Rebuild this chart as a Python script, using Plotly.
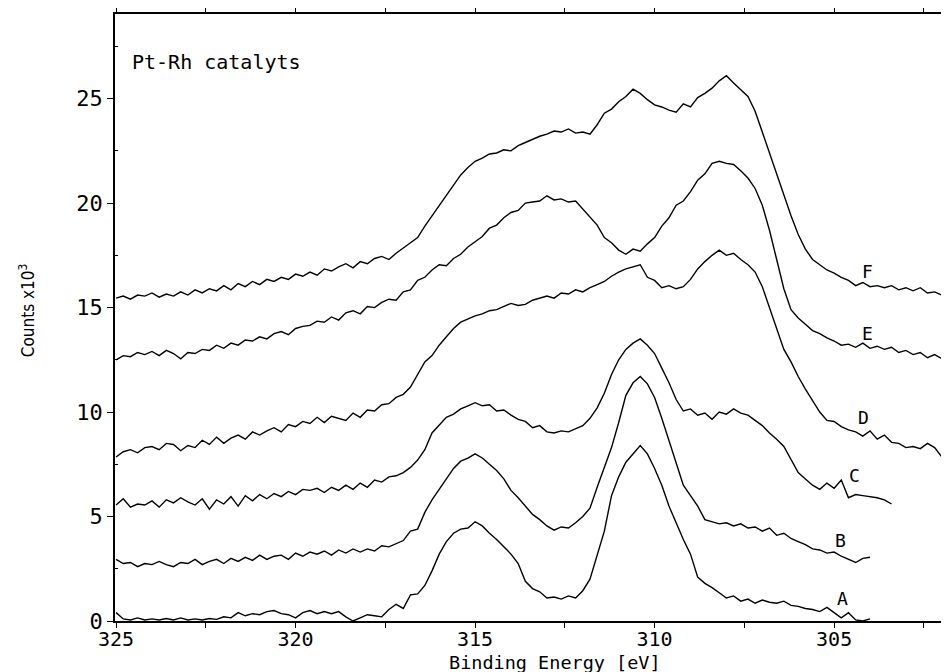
import plotly.graph_objects as go

# Binding energy sampling grid [eV] (shared by all spectra; each spectrum uses its first len(values) points)
energy = [
    325.0, 324.8, 324.6, 324.4, 324.2, 324.0, 323.8, 323.6, 323.4, 323.2,
    323.0, 322.8, 322.6, 322.4, 322.2, 322.0, 321.8, 321.6, 321.4, 321.2,
    321.0, 320.8, 320.6, 320.4, 320.2, 320.0, 319.8, 319.6, 319.4, 319.2,
    319.0, 318.8, 318.6, 318.4, 318.2, 318.0, 317.8, 317.6, 317.4, 317.2,
    317.0, 316.8, 316.6, 316.4, 316.2, 316.0, 315.8, 315.6, 315.4, 315.2,
    315.0, 314.8, 314.6, 314.4, 314.2, 314.0, 313.8, 313.6, 313.4, 313.2,
    313.0, 312.8, 312.6, 312.4, 312.2, 312.0, 311.8, 311.6, 311.4, 311.2,
    311.0, 310.8, 310.6, 310.4, 310.2, 310.0, 309.8, 309.6, 309.4, 309.2,
    309.0, 308.8, 308.6, 308.4, 308.2, 308.0, 307.8, 307.6, 307.4, 307.2,
    307.0, 306.8, 306.6, 306.4, 306.2, 306.0, 305.8, 305.6, 305.4, 305.2,
    305.0, 304.8, 304.6, 304.4, 304.2, 304.0, 303.8, 303.6, 303.4, 303.2,
    303.0, 302.8, 302.6, 302.4, 302.2, 302.0, 301.8,
]

# Counts x10^3 for each sample
spec_A = [
    0.40, 0.10, 0.05, 0.15, 0.05, 0.10, 0.05, 0.12, 0.05, 0.15,
    0.05, 0.10, 0.05, 0.12, 0.08, 0.20, 0.15, 0.40, 0.25, 0.35,
    0.30, 0.45, 0.50, 0.35, 0.30, 0.15, 0.40, 0.50, 0.35, 0.45,
    0.35, 0.45, 0.20, 0.00, 0.15, 0.30, 0.25, 0.20, 0.55, 0.80,
    0.60, 1.25, 1.30, 1.70, 2.40, 3.20, 3.80, 4.20, 4.40, 4.45,
    4.75, 4.55, 4.20, 3.90, 3.55, 3.20, 2.75, 1.90, 1.55, 1.40,
    1.10, 1.15, 1.05, 1.20, 1.10, 1.45, 2.00, 3.10, 4.30, 6.00,
    6.90, 7.60, 8.00, 8.40, 8.00, 7.30, 6.50, 5.50, 4.70, 3.90,
    3.20, 2.10, 1.80, 1.60, 1.35, 1.10, 1.20, 0.95, 1.05, 0.85,
    1.00, 0.90, 0.85, 0.95, 0.75, 0.70, 0.60, 0.55, 0.45, 0.65,
    0.40, 0.15, 0.40, 0.05, 0.00, 0.10,
]
spec_B = [
    2.95, 2.75, 2.80, 2.60, 2.75, 2.70, 2.85, 2.70, 2.60, 2.80,
    2.75, 2.95, 2.70, 2.85, 2.95, 2.75, 3.00, 2.85, 3.05, 2.90,
    3.15, 2.95, 3.10, 3.15, 2.95, 3.25, 3.10, 3.30, 3.20, 3.35,
    3.15, 3.40, 3.25, 3.45, 3.30, 3.45, 3.35, 3.60, 3.55, 3.70,
    3.85, 4.30, 4.40, 5.20, 5.80, 6.30, 6.80, 7.30, 7.65, 7.80,
    8.00, 7.80, 7.50, 7.20, 6.80, 6.25, 5.90, 5.50, 5.10, 4.85,
    4.55, 4.35, 4.50, 4.45, 4.70, 5.00, 5.40, 6.40, 7.30, 8.30,
    9.50, 10.80, 11.40, 11.70, 11.35, 10.70, 9.70, 8.60, 7.50, 6.50,
    6.00, 5.50, 4.85, 4.75, 4.65, 4.70, 4.55, 4.65, 4.45, 4.50,
    4.30, 4.45, 4.10, 4.20, 3.95, 3.80, 3.65, 3.45, 3.40, 3.25,
    3.30, 3.10, 2.95, 2.80, 3.00, 3.05,
]
spec_C = [
    5.55, 5.85, 5.45, 5.60, 5.55, 5.75, 5.45, 5.80, 5.65, 5.90,
    5.70, 5.55, 5.85, 5.35, 5.80, 5.60, 5.95, 5.50, 6.00, 5.75,
    6.05, 5.85, 6.10, 5.95, 6.20, 6.05, 6.30, 6.25, 6.35, 6.15,
    6.40, 6.25, 6.50, 6.30, 6.60, 6.40, 6.75, 6.65, 6.90, 6.95,
    7.10, 7.35, 7.70, 8.20, 9.00, 9.40, 9.75, 9.90, 10.15, 10.30,
    10.45, 10.30, 10.35, 10.05, 10.10, 9.85, 9.65, 9.55, 9.25, 9.35,
    9.05, 9.00, 9.10, 9.05, 9.20, 9.35, 9.70, 10.20, 10.90, 11.80,
    12.50, 13.00, 13.30, 13.50, 13.20, 12.80, 12.10, 11.40, 10.60, 10.05,
    10.15, 9.85, 9.95, 9.65, 10.00, 9.90, 10.15, 9.95, 9.85, 9.60,
    9.35, 9.00, 8.70, 8.35, 7.70, 7.10, 6.80, 6.50, 6.30, 6.60,
    6.35, 6.75, 5.90, 6.05, 6.00, 5.95, 5.90, 5.80, 5.60,
]
spec_D = [
    7.85, 8.10, 8.20, 8.05, 8.30, 8.35, 8.20, 8.50, 8.45, 8.15,
    8.40, 8.30, 8.65, 8.45, 8.80, 8.50, 8.75, 8.90, 8.70, 9.05,
    8.90, 9.10, 9.25, 9.05, 9.40, 9.30, 9.55, 9.45, 9.75, 9.50,
    9.80, 9.70, 9.60, 9.95, 9.75, 10.10, 10.05, 10.35, 10.40, 10.70,
    10.85, 11.20, 11.80, 12.40, 12.70, 13.20, 13.60, 14.00, 14.30, 14.45,
    14.60, 14.70, 14.85, 14.90, 15.05, 15.20, 15.10, 15.15, 15.35, 15.45,
    15.55, 15.45, 15.70, 15.65, 15.85, 15.75, 15.95, 16.10, 16.25, 16.50,
    16.70, 16.85, 16.95, 17.05, 16.45, 16.30, 15.95, 16.05, 15.90, 16.00,
    16.35, 16.85, 17.20, 17.50, 17.75, 17.50, 17.60, 17.30, 17.05, 16.70,
    16.00, 15.00, 14.00, 13.00, 12.40, 11.70, 11.10, 10.55, 10.00, 9.60,
    9.55, 9.30, 9.15, 9.05, 8.85, 9.10, 8.70, 8.90, 8.55, 8.50,
    8.30, 8.35, 8.25, 8.50, 8.30, 7.85,
]
spec_E = [
    12.50, 12.70, 12.65, 12.85, 12.75, 12.90, 12.70, 12.95, 12.80, 12.55,
    12.85, 12.80, 13.00, 12.95, 13.20, 13.05, 13.30, 13.20, 13.45, 13.40,
    13.60, 13.50, 13.75, 13.85, 13.70, 14.00, 14.10, 14.15, 14.35, 14.30,
    14.55, 14.40, 14.75, 14.85, 14.70, 15.05, 15.00, 15.25, 15.40, 15.35,
    15.75, 15.85, 16.30, 16.45, 16.80, 17.05, 17.00, 17.35, 17.55, 17.90,
    18.15, 18.40, 18.80, 18.95, 19.30, 19.55, 19.65, 20.00, 20.05, 20.10,
    20.35, 20.15, 20.20, 20.05, 20.10, 19.70, 19.35, 18.95, 18.35, 18.10,
    17.75, 17.55, 17.80, 17.70, 18.05, 18.35, 18.90, 19.30, 19.90, 20.10,
    20.55, 21.10, 21.40, 21.90, 22.00, 21.90, 21.85, 21.55, 21.20, 20.70,
    19.90, 18.70, 17.30, 15.90, 14.90, 14.50, 14.20, 13.90, 13.75, 13.55,
    13.40, 13.20, 13.25, 13.10, 13.30, 13.05, 13.15, 13.00, 13.10, 12.85,
    12.95, 12.75, 12.85, 12.60, 12.75, 12.55, 12.35,
]
spec_F = [
    15.45, 15.55, 15.40, 15.60, 15.55, 15.70, 15.50, 15.65, 15.55, 15.75,
    15.60, 15.85, 15.70, 15.90, 15.80, 16.05, 15.85, 16.15, 16.00, 16.25,
    16.10, 16.35, 16.25, 16.45, 16.35, 16.60, 16.50, 16.70, 16.55, 16.85,
    16.75, 16.95, 17.10, 16.90, 17.20, 17.10, 17.35, 17.45, 17.30, 17.60,
    17.85, 18.10, 18.35, 18.90, 19.40, 19.90, 20.40, 20.90, 21.35, 21.70,
    22.00, 22.15, 22.35, 22.40, 22.55, 22.50, 22.75, 22.90, 23.05, 23.20,
    23.30, 23.45, 23.40, 23.55, 23.35, 23.40, 23.30, 23.75, 24.30, 24.50,
    24.85, 25.10, 25.45, 25.25, 24.95, 24.70, 24.60, 24.45, 24.35, 24.75,
    24.60, 25.05, 25.25, 25.50, 25.85, 26.10, 25.75, 25.40, 25.10, 24.40,
    23.40, 22.30, 21.35, 20.30, 19.40, 18.50, 17.80, 17.30, 17.05, 16.80,
    16.65, 16.45, 16.30, 16.05, 16.20, 16.00, 16.05, 15.95, 16.05, 15.85,
    15.95, 15.80, 15.95, 15.70, 15.75, 15.60, 15.45,
]

series_names = ["A", "B", "C", "D", "E", "F"]
series_values = [spec_A, spec_B, spec_C, spec_D, spec_E, spec_F]

# Curve label anchor points (eV, counts)
label_energy = [304.78, 304.83, 304.42, 304.19, 304.08, 304.08]
label_counts = [1.10, 3.86, 6.97, 9.73, 13.74, 16.75]

x_tick_vals = [325, 320, 315, 310, 305]
x_tick_text = ["325", "320", "315", "310", "305"]
x_minor_vals = [322.5, 317.5, 312.5, 307.5, 302.5]
y_tick_vals = [0, 5, 10, 15, 20, 25]
y_tick_text = ["0", "5", "10", "15", "20", "25"]
y_minor_vals = [2.5, 7.5, 12.5, 17.5, 22.5, 27.5]

FONT = "DejaVu Sans Mono"

fig = go.Figure()
for name, vals in zip(series_names, series_values):
    fig.add_trace(go.Scatter(
        x=energy[:len(vals)], y=vals, mode="lines", name=name,
        line=dict(color="black", width=1.4), showlegend=False,
        hoverinfo="skip",
    ))

for name, ex, cy in zip(series_names, label_energy, label_counts):
    fig.add_annotation(x=ex, y=cy, xref="x", yref="y", text=name,
                       showarrow=False, font=dict(family=FONT, size=18, color="black"),
                       xanchor="center", yanchor="middle")

fig.add_annotation(x=0.018, y=0.921, xref="paper", yref="paper",
                   text="Pt-Rh catalyts", showarrow=False, xanchor="left", yanchor="middle",
                   font=dict(family=FONT, size=20, color="black"))
fig.add_annotation(x=0.5276, y=-0.069, xref="paper", yref="paper",
                   text="Binding Energy [eV]", showarrow=False, xanchor="center", yanchor="middle",
                   font=dict(family=FONT, size=18.5, color="black"))
fig.add_annotation(x=-0.1055, y=0.512, xref="paper", yref="paper",
                   text="Counts x10<sup>3</sup>", showarrow=False, textangle=-90,
                   xanchor="center", yanchor="middle",
                   font=dict(family="DejaVu Sans Condensed, DejaVu Sans Mono", size=17, color="black"))

# The page body adds an 8 px offset, so the figure is sized 8 px smaller on each axis
fig.update_layout(
    width=941, height=664,
    margin=dict(l=107, r=0, t=6, b=51, autoexpand=False),
    paper_bgcolor="white", plot_bgcolor="white",
    xaxis=dict(
        range=[325.03, 301.8], showgrid=False, zeroline=False, automargin=False,
        showline=True, linecolor="black", linewidth=1.5, mirror="ticks",
        ticks="outside", ticklen=5, tickwidth=1.2, tickcolor="black",
        tickvals=x_tick_vals, ticktext=x_tick_text, ticklabelstandoff=-6,
        tickfont=dict(family=FONT, size=20, color="black"),
        minor=dict(tickvals=x_minor_vals, ticks="outside", ticklen=5,
                   tickcolor="black", tickwidth=1.2),
    ),
    yaxis=dict(
        range=[0, 29.05], showgrid=False, zeroline=False, automargin=False,
        showline=True, linecolor="black", linewidth=1.5,
        ticks="outside", ticklen=6, tickwidth=1.2, tickcolor="black",
        tickvals=y_tick_vals, ticktext=y_tick_text,
        tickfont=dict(family=FONT, size=22, color="black"),
        minor=dict(tickvals=y_minor_vals, ticks="inside",
                   ticklen=3, tickcolor="black", tickwidth=1),
    ),
)

fig.write_html("out.html")
